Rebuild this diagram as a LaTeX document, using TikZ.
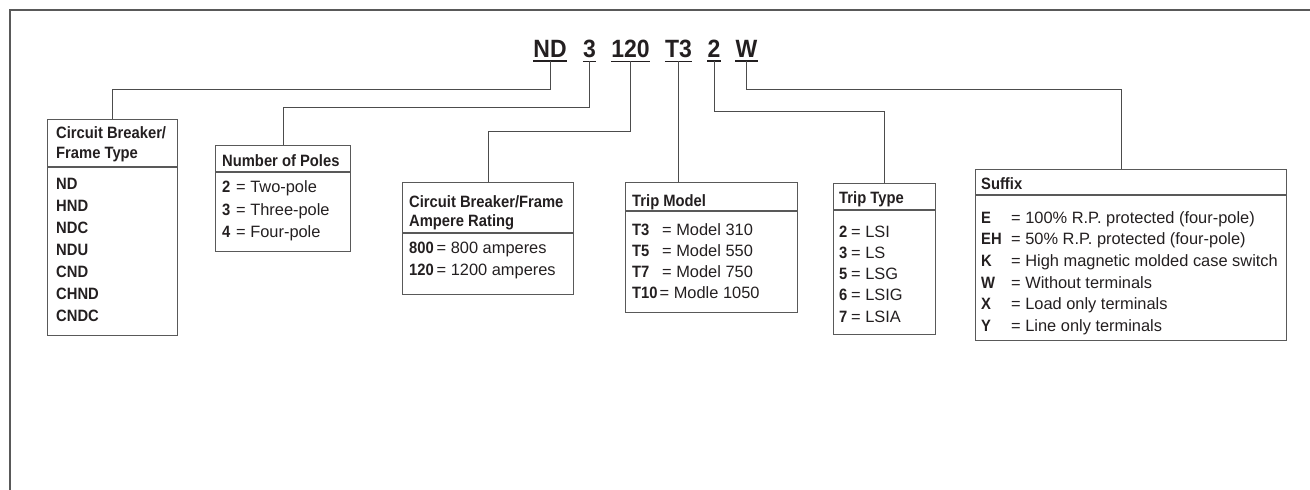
\documentclass[tikz,border=0pt]{standalone}
\usepackage{fontspec}
\setmainfont{Liberation Sans}[BoldFeatures={FakeStretch=0.9}]
\newfontfamily\titlefont{Liberation Sans}[FakeStretch=0.92]
\usetikzlibrary{calc}
\definecolor{ink}{HTML}{231F20}
\newcommand\bxfont{\fontsize{16.4}{19}\selectfont}
\begin{document}
\begin{tikzpicture}[x=1pt,y=-1pt,
  txt/.style={inner sep=0pt, anchor=base west, text=ink, font=\bxfont},
  hd/.style={txt, font=\bxfont\bfseries},
  code/.style={inner xsep=0pt, inner ysep=4pt, anchor=base, text=ink, font=\titlefont\bfseries\fontsize{25}{30}\selectfont},
  uline/.style={draw=ink, line width=1.8pt},
  conn/.style={draw=black!70, line width=1pt},
  box/.style={draw=black!65, line width=1.2pt, anchor=north west, inner sep=0pt},
  sep/.style={draw=black!65, line width=1.1pt},
  frame/.style={draw=black!65, line width=1.6pt}]
\useasboundingbox (0,0) rectangle (1310,490);
\draw[frame] (10,490) -- (10,10) -- (1310,10);

% code nodes
\node[code] (c1) at (550,57) {ND};
\node[code] (c2) at (589.5,57) {3};
\node[code] (c3) at (630.5,57) {120};
\node[code] (c4) at (678.5,57) {T3};
\node[code] (c5) at (714,57) {2};
\node[code] (c6) at (746.5,57) {W};
\foreach \c in {c1,c2,c3,c4,c5,c6}
  \draw[uline] (\c.south west) -- (\c.south east);

% boxes
\node[box, minimum width=130pt, minimum height=216pt] (b1) at (47,119) {};
\node[box, minimum width=135pt, minimum height=106pt] (b2) at (215,145) {};
\node[box, minimum width=171pt, minimum height=112pt] (b3) at (402,182) {};
\node[box, minimum width=172pt, minimum height=130pt] (b4) at (625,182) {};
\node[box, minimum width=102pt, minimum height=151pt] (b5) at (833,183) {};
\node[box, minimum width=311pt, minimum height=171pt] (b6) at (975,169) {};

\draw[sep] ($(b1.north west)+(0,48)$) -- ($(b1.north east)+(0,48)$);
\draw[sep] ($(b2.north west)+(0,27)$) -- ($(b2.north east)+(0,27)$);
\draw[sep] ($(b3.north west)+(0,51)$) -- ($(b3.north east)+(0,51)$);
\draw[sep] ($(b4.north west)+(0,29)$) -- ($(b4.north east)+(0,29)$);
\draw[sep] ($(b5.north west)+(0,27)$) -- ($(b5.north east)+(0,27)$);
\draw[sep] ($(b6.north west)+(0,26)$) -- ($(b6.north east)+(0,26)$);

% connectors
\draw[conn] (c1.south) -- ++(0,28) -| (b1.north);
\draw[conn] (c2.south) -- ++(0,46) -| (b2.north);
\draw[conn] (c3.south) -- ++(0,70) -| (b3.north);
\draw[conn] (c4.south) -- (c4.south |- b4.north);
\draw[conn] (c5.south) -- ++(0,50) -| (b5.north);
\draw[conn] (c6.south) -- ++(0,28) -| ([xshift=146pt]b6.north west);

% box 1
\node[hd] (h1a) at (56,138) {Circuit Breaker/};
\node[hd] (h1b) at (56,158) {Frame Type};
\foreach \k [count=\i from 0] in {ND,HND,NDC,NDU,CND,CHND,CNDC}
  \node[hd] (k1\i) at (56,189+22.15*\i) {\k};

% box 2
\node[hd] (h2) at (222,166) {Number of Poles};
\foreach \k/\v [count=\i from 0] in {2/Two-pole,3/Three-pole,4/Four-pole}{
  \node[hd] (k2\i) at (222,192.5+22.5*\i) {\k};
  \node[txt] (v2\i) at (236,192.5+22.5*\i) {= \v};
}

% box 3
\node[hd] (h3a) at (409,207) {Circuit Breaker/Frame};
\node[hd] (h3b) at (409,226) {Ampere Rating};
\foreach \k/\v [count=\i from 0] in {800/800 amperes,120/1200 amperes}{
  \node[hd] (k3\i) at (409,253+22*\i) {\k};
  \node[txt] (v3\i) at (436.5,253+22*\i) {= \v};
}

% box 4
\node[hd] (h4) at (632,206) {Trip Model};
\foreach \k/\e/\v [count=\i from 0] in {T3/662/Model 310,T5/662/Model 550,T7/662/Model 750,T10/659.5/Modle 1050}{
  \node[hd] (k4\i) at (632,235+21.3*\i) {\k};
  \node[txt] (v4\i) at (\e,235+21.3*\i) {= \v};
}

% box 5
\node[hd] (h5) at (839,203) {Trip Type};
\foreach \k/\v [count=\i from 0] in {2/LSI,3/LS,5/LSG,6/LSIG,7/LSIA}{
  \node[hd] (k5\i) at (839,237+21.3*\i) {\k};
  \node[txt] (v5\i) at (851,237+21.3*\i) {= \v};
}

% box 6
\node[hd] (h6) at (981,189) {Suffix};
\foreach \k/\v [count=\i from 0] in {E/100\% R.P. protected (four-pole),EH/50\% R.P. protected (four-pole),K/High magnetic molded case switch,W/Without terminals,X/Load only terminals,Y/Line only terminals}{
  \node[hd] (k6\i) at (981,223+21.7*\i) {\k};
  \node[txt] (v6\i) at (1011,223+21.7*\i) {= \v};
}
\end{tikzpicture}
\end{document}
